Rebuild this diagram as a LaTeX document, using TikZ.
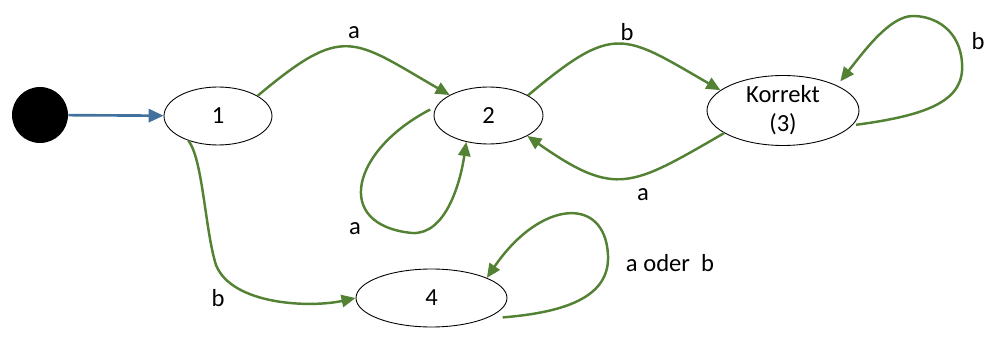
\documentclass[tikz,border=0pt]{standalone}
\usepackage{fontspec}
\setmainfont{Carlito}
\definecolor{arcgreen}{RGB}{84,130,53}
\definecolor{startblue}{RGB}{65,113,156}
\usetikzlibrary{arrows.meta,shapes.geometric}

\begin{document}
\begin{tikzpicture}[x=0.02cm,y=-0.02cm,font=\fontsize{14}{16.5}\selectfont,
    state/.style={draw,ellipse,line width=0.5pt,inner sep=0pt,align=center},
    trans/.style={arcgreen,line width=1.4pt,-{Triangle[length=8pt,width=7pt]}}]
  \useasboundingbox (0,0) rectangle (995,341);
  % start and states
  \node[circle,fill=black,minimum size=1.12cm,inner sep=0pt] (init) at (40,115) {};
  \node[state,minimum width=2.16cm,minimum height=1.16cm] (s1) at (218,116) {1};
  \node[state,minimum width=2.18cm,minimum height=1.14cm] (s2) at (488.5,115.5) {2};
  \node[state,minimum width=3.04cm,minimum height=1.34cm] (s3) at (783,110.5) {Korrekt\\(3)};
  \node[state,minimum width=3.02cm,minimum height=1.16cm] (s4) at (431.5,298) {4};
  % start arrow
  \draw[startblue,line width=1.5pt,-{Triangle[length=8.5pt,width=7.5pt]}] (init) -- (s1);
  % transitions
  \draw[trans] (s1.27) to[out=40,in=150,looseness=1.5] (s2.north west);
  \draw[trans] (s2.27) to[out=40,in=150,looseness=1.5] (s3.162);
  \draw[trans] (s3.201) to[out=210,in=-35,looseness=1.4] (s2.south east);
  \draw[trans] (s1.220) .. controls (203,160) and (205,230) .. (216,265)
      .. controls (232,305) and (310,308) .. (s4.west);
  % loops
  \draw[trans,shorten <=4pt] (s2.170) .. controls (352,150) and (332,225) .. (412,233)
      .. controls (445,235) and (460,185) .. (s2.230);
  \draw[trans,shorten <=2pt,shorten >=3pt] (s3.-12) .. controls (930,115) and (965,100) .. (962,63)
      .. controls (960,30) and (935,16) .. (913,16)
      .. controls (890,16) and (865,50) .. (s3.north east);
  \draw[trans,shorten <=10pt] (s4.south east) .. controls (570,312) and (610,295) .. (608,255)
      .. controls (605,195) and (540,200) .. (s4.20);
  % labels
  \node (la12) at (354,33) {a};
  \node (lb23) at (627,32) {b};
  \node (la32) at (643,195) {a};
  \node (la22) at (355,229) {a};
  \node (lb33) at (978,41) {b};
  \node (lb14) at (218,298) {b};
  \node (lab44) at (670,263) {a oder\ \ b};
\end{tikzpicture}
\end{document}
